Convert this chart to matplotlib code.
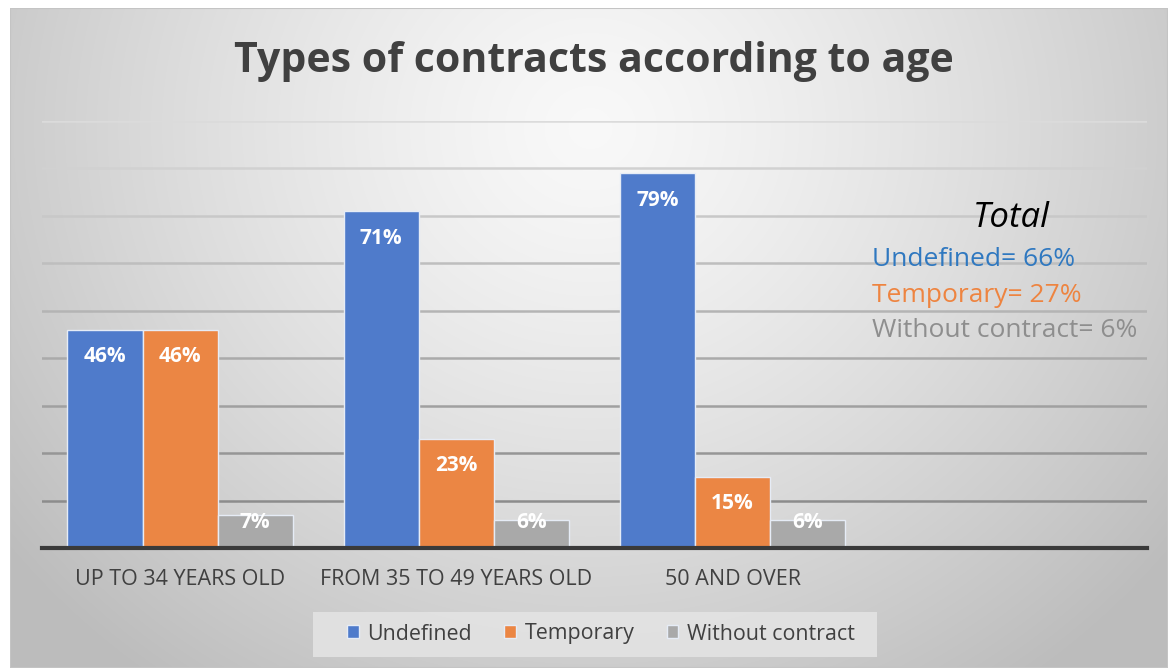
import numpy as np
import matplotlib
matplotlib.use("Agg")
import matplotlib.pyplot as plt
from matplotlib.patches import Rectangle

# ---- data ----
categories = ["UP TO 34 YEARS OLD", "FROM 35 TO 49 YEARS OLD", "50 AND OVER", ""]
series_names = ["Undefined", "Temporary", "Without contract"]
undefined = [46, 71, 79]
temporary = [46, 23, 15]
without_contract = [7, 6, 6]
totals = [66, 27, 6]
title = "Types of contracts according to age"

colors = ["#4F7BCB", "#EB8644", "#A9A9A9"]
total_colors = ["#2F78C0", "#EE8440", "#8E8E8E"]

W, H = 1168, 668
fig = plt.figure(figsize=(W / 100, H / 100), dpi=100)
fig.patch.set_facecolor("white")

# background panel with radial gradient
bg = fig.add_axes([10 / W, 0, (W - 10) / W, (H - 8) / H])
bg.set_axis_off()
yy, xx = np.mgrid[0:660, 0:1158]
cx, cy = 580, 120
r = np.sqrt(((xx - cx) / 700.0) ** 2 + ((yy - cy) / 650.0) ** 2)
val = np.clip(0.975 - 0.22 * r ** 1.3, 0.74, 0.98)
img = np.dstack([val, val, val])
bg.imshow(img, aspect="auto", extent=[0, 1, 0, 1], origin="upper")
bg.set_xlim(0, 1)
bg.set_ylim(0, 1)
bg.add_patch(Rectangle((0, 0), 1, 1, transform=bg.transAxes, fill=False,
                       edgecolor="#c4c4c4", lw=1.5))

# legend background box
fig.patches.append(Rectangle((313 / W, 1 - 657 / H), (877 - 313) / W, 45 / H,
                             transform=fig.transFigure, facecolor="#e3e3e3",
                             edgecolor="none", alpha=0.9, zorder=1))

# main axes
left, right = 42, 1147
base_y, top_y = 548, 121
ax = fig.add_axes([left / W, (H - base_y) / H, (right - left) / W, (base_y - top_y) / H])
ax.patch.set_alpha(0)
ax.set_xlim(-0.5, len(categories) - 0.5)
ax.set_ylim(0, 90)
gridvals = np.arange(10, 91, 10)
ax.set_yticks(gridvals)
for gv in gridvals:
    t = (gv - 10) / 80.0
    g = 0.55 + t * (0.86 - 0.55)
    ax.axhline(gv, color=(g, g, g), lw=1.8, zorder=1)
for s in ["top", "right", "left"]:
    ax.spines[s].set_visible(False)
ax.spines["bottom"].set_color("#3a3a3a")
ax.spines["bottom"].set_linewidth(3)
ax.spines["bottom"].set_zorder(5)
ax.tick_params(axis="y", length=0, labelleft=False)
ax.tick_params(axis="x", length=0, pad=15, labelsize=15.5, labelcolor="#404040")
ax.set_xticks(range(len(categories)))
ax.set_xticklabels(categories, fontfamily="Open Sans")

bw = 0.272
series = [undefined, temporary, without_contract]
x = np.arange(len(undefined))
for i, (vals, c, name) in enumerate(zip(series, colors, series_names)):
    xs = x + (i - 1) * bw
    ax.bar(xs, vals, bw, color=c, edgecolor="#e6ecf6", lw=1, label=name, zorder=3)
    for xi, v in zip(xs, vals):
        ly = max(v - 5.7, 5.3)
        ax.text(xi, ly, f"{v}%", ha="center", va="center", color="white",
                fontsize=15, fontweight="bold", fontfamily="Open Sans", zorder=4)

# title
fig.text(594 / W, 1 - 61 / H, title, ha="center", va="center", fontsize=29.5,
         fontweight="bold", color="#404040", fontfamily="Open Sans")

# totals text
fig.text(1011 / W, 1 - 218 / H, "Total", ha="center", va="center", fontsize=25,
         style="italic", color="black", fontfamily="Open Sans")
ys = [259, 296, 330]
for name, tv, c, yv in zip(series_names, totals, total_colors, ys):
    fig.text(872 / W, 1 - yv / H, f"{name}= {tv}%", ha="left", va="center",
             fontsize=19, color=c, fontfamily="Open Sans")

# legend
leg = fig.legend(loc="center", bbox_to_anchor=(601 / W, 1 - 634 / H), ncol=3,
                 frameon=False, handlelength=0.55, handleheight=0.55,
                 handletextpad=0.4, columnspacing=1.5, borderpad=0.3,
                 prop={"family": "Open Sans", "size": 15.4})
for t in leg.get_texts():
    t.set_color("#404040")

fig.savefig("out.png", dpi=100)
